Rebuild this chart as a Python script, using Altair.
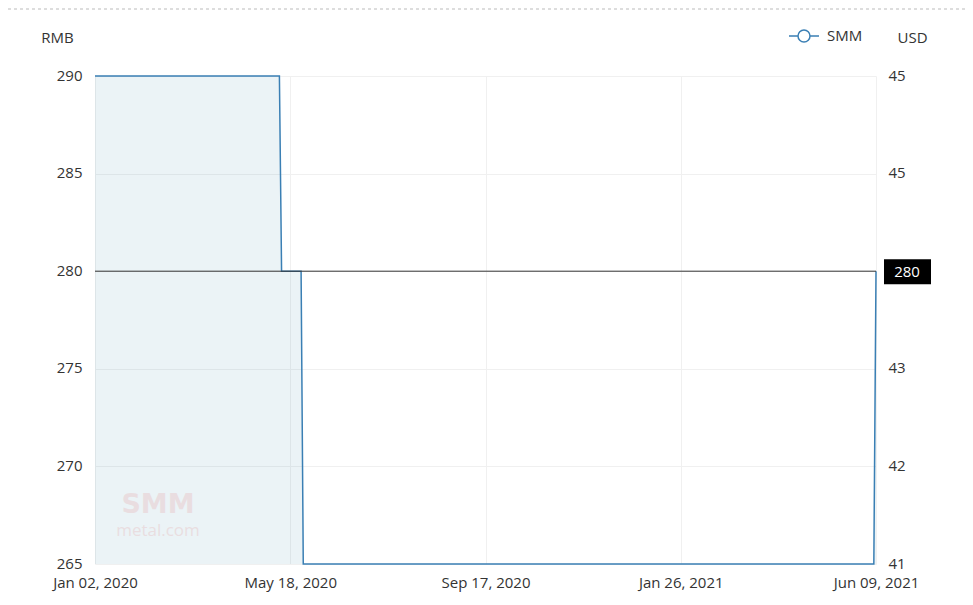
import altair as alt
import pandas as pd

# ---- data ----
idx = [0, 85, 86, 95, 96, 359, 360]
price = [290, 290, 280, 280, 265, 265, 280]
series_name = "SMM"

x_tick_idx = [0, 90, 180, 270, 360]
x_tick_labels = ["Jan 02, 2020", "May 18, 2020", "Sep 17, 2020", "Jan 26, 2021", "Jun 09, 2021"]
rmb_ticks = [265, 270, 275, 280, 285, 290]
usd_labels = ["41", "42", "43", "", "45", "45"]   # 44 hidden under the 280 marker
last_price = 280

df = pd.DataFrame({"idx": idx, "price": price, "series": [series_name] * len(idx)})

BLUE = "#3a7fb4"
AREA = "#3787a5"
FONT = "Open Sans"
TXT = "#333333"
GRID = "#f0f0f0"
FS = 15
W, H = 781, 488


def map_expr(keys, labels):
    expr = "''"
    for k, l in zip(keys, labels):
        expr = f"datum.value == {k} ? '{l}' : ({expr})"
    return expr


x_scale = alt.Scale(domain=[0, 360], nice=False, zero=False)
y_scale = alt.Scale(domain=[rmb_ticks[0], rmb_ticks[-1]], nice=False, zero=False)

x_enc = alt.X(
    "idx:Q",
    scale=x_scale,
    axis=alt.Axis(
        values=x_tick_idx, labelExpr=map_expr(x_tick_idx, x_tick_labels), title=None,
        grid=True, gridColor=GRID, domain=False, ticks=False, labelPadding=11,
        labelFlush=False, labelBound=False, labelOverlap=False,
        labelFontSize=FS, labelColor=TXT, labelFont=FONT,
    ),
)

y_left = alt.Y(
    "price:Q",
    scale=y_scale,
    axis=alt.Axis(
        orient="left", values=rmb_ticks, title="RMB", titleAngle=0, titleX=-38, titleY=-39,
        titleAlign="center", titleBaseline="middle", titleFontSize=FS, titleFontWeight="normal",
        titleColor=TXT, titleFont=FONT, grid=True, gridColor=GRID, domain=False, ticks=False,
        labelPadding=13, labelFontSize=FS, labelColor=TXT, labelFont=FONT,
        labelBaseline="middle", labelOffset=-1,
    ),
)

y_right = alt.Y(
    "price:Q",
    scale=y_scale,
    axis=alt.Axis(
        orient="right", values=rmb_ticks, labelExpr=map_expr(rmb_ticks, usd_labels),
        title="USD", titleAngle=0, titleX=36, titleY=-39, titleAlign="center",
        titleBaseline="middle", titleFontSize=FS, titleFontWeight="normal", titleColor=TXT,
        titleFont=FONT, grid=False, domain=False, ticks=False, labelPadding=12,
        labelFontSize=FS, labelColor=TXT, labelFont=FONT,
        labelBaseline="middle", labelOffset=-1,
    ),
)

base = alt.Chart(df)

area = base.mark_area(color=AREA, opacity=0.1).encode(
    x=x_enc, y=y_left, y2=alt.Y2Datum(rmb_ticks[0])
)

legend_path = "M-1,0H-0.4M0.4,0H1M0.4,0A0.4,0.4,0,1,1,-0.4,0A0.4,0.4,0,1,1,0.4,0Z"
line = base.mark_line(strokeWidth=1.5).encode(
    x=x_enc,
    y=alt.Y("price:Q", scale=y_scale, axis=None),
    color=alt.Color(
        "series:N",
        scale=alt.Scale(range=[BLUE]),
        legend=alt.Legend(
            title=None, orient="none", legendX=693, legendY=-56,
            symbolType=legend_path, symbolSize=900, symbolFillColor="white",
            symbolStrokeColor=BLUE, symbolStrokeWidth=1.5, labelFontSize=FS,
            labelColor=TXT, labelFont=FONT, labelOffset=7,
        ),
    ),
)

right_axis = base.mark_line(opacity=0).encode(x=x_enc, y=y_right)

last_df = pd.DataFrame({"price": [last_price], "label": [str(last_price)]})
rule = alt.Chart(last_df).mark_rule(color="#333333", strokeWidth=1).encode(
    y=alt.Y("price:Q", scale=y_scale, axis=None)
)
box = alt.Chart(last_df).mark_rect(color="black", yOffset=-12, y2Offset=13).encode(
    x=alt.value(W + 8), x2=alt.value(W + 55),
    y=alt.Y("price:Q", scale=y_scale, axis=None), y2="price:Q",
)
box_text = alt.Chart(last_df).mark_text(
    color="white", fontSize=FS, font=FONT, align="center", baseline="middle", dy=1
).encode(
    x=alt.value(W + 31), y=alt.Y("price:Q", scale=y_scale, axis=None), text="label:N"
)

wm_df = pd.DataFrame({"t": ["SMM"]})
wm1 = alt.Chart(wm_df).mark_text(
    fontSize=27, fontWeight="bold", font="DejaVu Sans",
    color="#e07070", opacity=0.16, align="center", baseline="middle"
).encode(x=alt.value(63), y=alt.value(H - 59), text="t:N")
wm_df2 = pd.DataFrame({"t": ["metal.com"]})
wm2 = alt.Chart(wm_df2).mark_text(
    fontSize=17, font=FONT, color="#e07070", opacity=0.16, align="center", baseline="middle"
).encode(x=alt.value(63), y=alt.value(H - 33), text="t:N")

top_dash = alt.Chart(wm_df).mark_rule(color="#bbbbbb", strokeDash=[3, 3], strokeWidth=1).encode(
    x=alt.value(-87), x2=alt.value(W + 89), y=alt.value(-67)
)

chart = (
    alt.layer(area, wm1, wm2, line, right_axis, rule, box, box_text, top_dash)
    .resolve_axis(y="independent")
    .properties(
        width=W, height=H,
        autosize=alt.AutoSizeParams(type="none"),
        padding={"left": 87, "top": 68, "right": 89, "bottom": 33},
        background="white",
    )
    .configure_view(stroke=None)
)

chart.save("out.html", embed_options={"renderer": "svg", "actions": False})
